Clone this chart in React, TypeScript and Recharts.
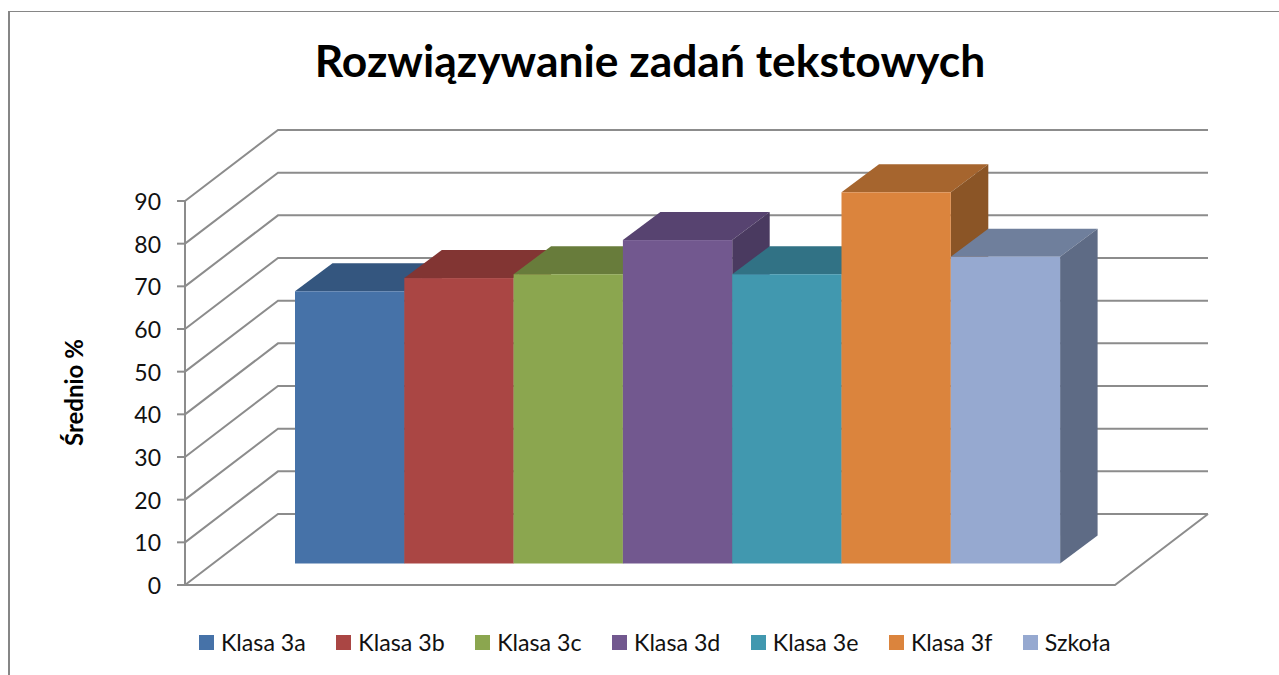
import { Bar, BarChart, CartesianGrid, Legend, XAxis, YAxis } from "recharts";

const seriesNames = ["Klasa 3a", "Klasa 3b", "Klasa 3c", "Klasa 3d", "Klasa 3e", "Klasa 3f", "Szkoła"];
const seriesValues = [63.8, 66.9, 67.8, 75.8, 67.8, 87, 71.9];
const yTicks = [0, 10, 20, 30, 40, 50, 60, 70, 80, 90];

const frontColors = ["#4672a8", "#aa4644", "#8ba64f", "#72588f", "#4198af", "#db843d", "#96a9d0"];
const topColors = ["#34567f", "#823533", "#687c3b", "#574370", "#317285", "#a6652e", "#6f7f9c"];
const sideColors = ["#2c4a6e", "#6f2d2b", "#5a6b33", "#4a3a60", "#2a6272", "#8b5526", "#5e6b85"];

const row: Record<string, string | number> = { name: "" };
seriesNames.forEach((s, i) => {
  row[s] = seriesValues[i];
});
const chartData = [row];

const FONT = "Lato, 'Open Sans', sans-serif";
const WALL_DX = 93;
const WALL_DY = 71;
const BAR_SHIFT_X = 28;
const BAR_SHIFT_Y = 21.5;
const BAR_DX = 37.5;
const BAR_DY = 28;
const BAR_EXTRA = 0.3; // recharts floors the bar width, the original is 109.3
const GRID = "#8c8c8c";

function gridLine(props: any) {
  const { x1, x2, y1, index, y, height } = props;
  const backY = y1 - WALL_DY;
  const isFloor = y1 >= y + height - 0.5;
  return (
    <g key={index}>
      <polyline
        points={`${x1},${y1} ${x1 + WALL_DX},${backY} ${x2 + WALL_DX},${backY}`}
        fill="none"
        stroke={GRID}
        strokeWidth={2}
      />
      {isFloor && (
        <polyline
          points={`${x1},${y1} ${x2},${y1} ${x2 + WALL_DX},${backY}`}
          fill="none"
          stroke={GRID}
          strokeWidth={2}
        />
      )}
    </g>
  );
}

function Bar3D(props: any) {
  const { x, y, width, height, fill, top, side, order } = props;
  const l = x + BAR_SHIFT_X + order * BAR_EXTRA;
  const t = y - BAR_SHIFT_Y;
  const w = width + BAR_EXTRA;
  const r = l + w;
  const b = t + height;
  return (
    <g>
      <polygon points={`${l},${t} ${l + BAR_DX},${t - BAR_DY} ${r + BAR_DX},${t - BAR_DY} ${r},${t}`} fill={top} />
      <polygon points={`${r},${t} ${r + BAR_DX},${t - BAR_DY} ${r + BAR_DX},${b - BAR_DY} ${r},${b}`} fill={side} />
      <rect x={l} y={t} width={w} height={height} fill={fill} />
    </g>
  );
}

function LegendRow({ payload }: any) {
  return (
    <div style={{ display: "flex", alignItems: "center", gap: 30.5, fontFamily: FONT, fontSize: 23.2, color: "#111", whiteSpace: "nowrap" }}>
      {(payload || []).map((item: any) => (
        <div key={item.value} style={{ display: "flex", alignItems: "center", gap: 7 }}>
          <span style={{ width: 15, height: 15, background: item.color, display: "block" }} />
          <span>{item.value}</span>
        </div>
      ))}
    </div>
  );
}

export default function App() {
  return (
    <div style={{ position: "absolute", left: 0, top: 0, width: 1279, height: 675, background: "#fff", overflow: "hidden" }}>
      <div
        style={{
          position: "absolute",
          left: 8,
          top: 11,
          width: 1271,
          height: 664,
          boxSizing: "border-box",
          borderLeft: "2px solid #868686",
          borderTop: "1.5px solid #868686",
        }}
      />
      <div
        style={{
          position: "absolute",
          left: 0,
          top: 33,
          width: 1300,
          textAlign: "center",
          fontFamily: FONT,
          fontWeight: 700,
          fontSize: 44.4,
          color: "#000",
        }}
      >
        Rozwiązywanie zadań tekstowych
      </div>
      <BarChart
        width={1279}
        height={675}
        data={chartData}
        margin={{ top: 201, right: 164, bottom: 90, left: 0 }}
        barCategoryGap={82}
        barGap={0}
      >
        <CartesianGrid horizontal={gridLine} vertical={false} />
        <XAxis dataKey="name" hide />
        <YAxis
          width={185}
          domain={[0, 90]}
          ticks={yTicks}
          interval={0}
          tickSize={8}
          tickMargin={16}
          axisLine={{ stroke: GRID, strokeWidth: 2 }}
          tickLine={{ stroke: GRID, strokeWidth: 2 }}
          tick={{ fill: "#111", fontSize: 23, fontFamily: FONT, dy: 1 }}
          label={{
            value: "Średnio %",
            angle: -90,
            position: "insideLeft",
            dx: 69,
            dy: 53,
            style: { fontFamily: FONT, fontWeight: 700, fontSize: 24, fill: "#000" },
          }}
        />
        <Legend
          verticalAlign="middle"
          wrapperStyle={{ left: 199, top: 628, width: "auto" }}
          content={LegendRow}
        />
        {seriesNames.map((s, i) => (
          <Bar
            key={s}
            dataKey={s}
            fill={frontColors[i]}
            isAnimationActive={false}
            shape={(p: any) => <Bar3D {...p} order={i} top={topColors[i]} side={sideColors[i]} />}
          />
        ))}
      </BarChart>
    </div>
  );
}
